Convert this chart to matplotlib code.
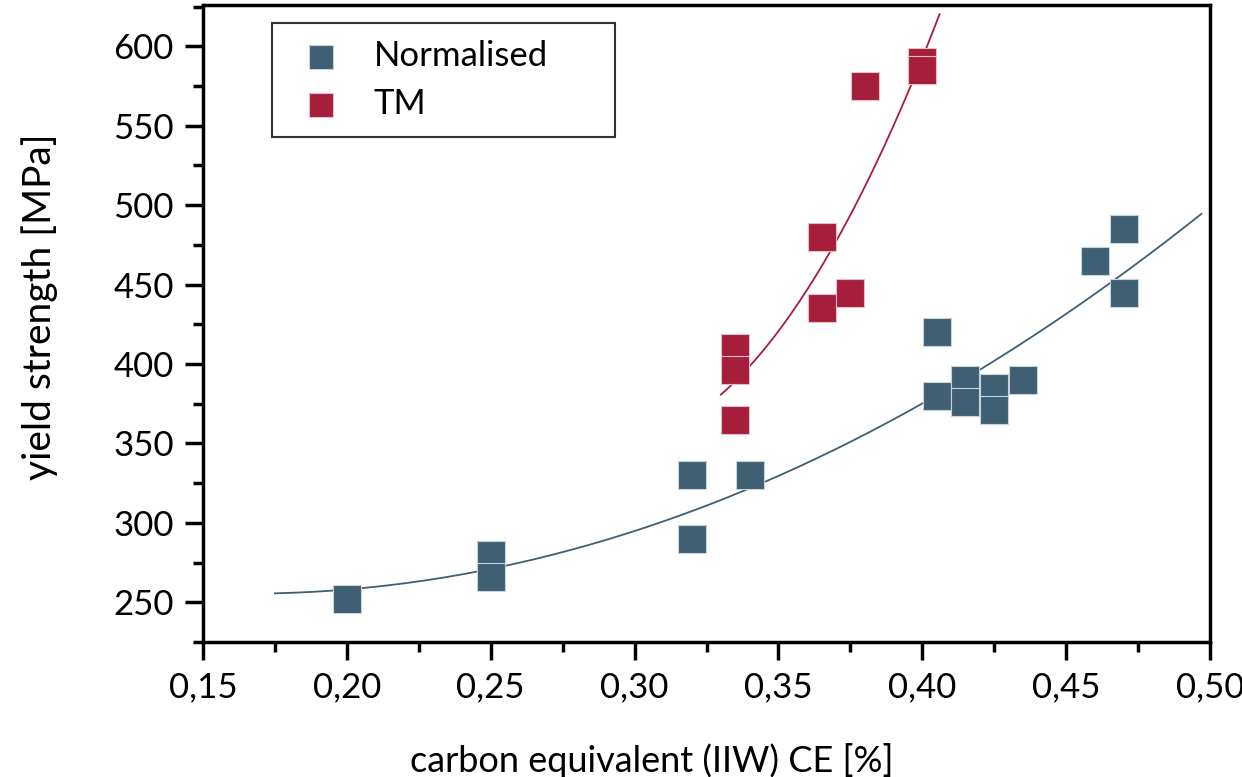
import matplotlib
matplotlib.use("Agg")
import matplotlib.pyplot as plt
from matplotlib.ticker import MultipleLocator, FuncFormatter
import numpy as np

# carbon equivalent / yield strength
norm_ce = [0.200, 0.250, 0.250, 0.320, 0.320, 0.340, 0.405, 0.405, 0.415, 0.415,
           0.425, 0.425, 0.435, 0.460, 0.470, 0.470]
norm_ys = [252, 280, 266, 330, 290, 330, 420, 380, 390, 376,
           385, 371, 390, 465, 485, 445]
tm_ce = [0.335, 0.335, 0.335, 0.365, 0.365, 0.375, 0.380, 0.400, 0.400]
tm_ys = [410, 396, 365, 480, 435, 445, 575, 590, 585]

# trend line ranges
norm_fit_range = (0.175, 0.497)
tm_fit_range = (0.330, 0.406)

blue = "#3F5F73"
red = "#A61E3C"

plt.rcParams['font.family'] = ['Lato', 'DejaVu Sans']

fig = plt.figure(figsize=(12.42, 7.77), dpi=100)
ax = fig.add_axes([203/1242, 1 - 642/777, (1210 - 203)/1242, (642 - 5)/777])

# quadratic trend lines fitted to the points
xs = np.linspace(*norm_fit_range, 200)
c = np.polyfit(norm_ce, norm_ys, 2)
ax.plot(xs, np.polyval(c, xs), color=blue, lw=1.3, zorder=2)
xs = np.linspace(*tm_fit_range, 200)
c = np.polyfit(tm_ce, tm_ys, 2)
ax.plot(xs, np.polyval(c, xs), color=red, lw=1.3, zorder=2)

ax.scatter(norm_ce, norm_ys, marker='s', s=400, color=blue, edgecolors='#c8d2da',
           linewidths=0.8, label='Normalised', zorder=3)
ax.scatter(tm_ce, tm_ys, marker='s', s=400, color=red, edgecolors='#e6c0c8',
           linewidths=0.8, label='TM', zorder=3)

ax.set_xlim(0.15, 0.50)
ax.set_ylim(225, 626)
ax.xaxis.set_major_locator(MultipleLocator(0.05))
ax.xaxis.set_minor_locator(MultipleLocator(0.025))
ax.yaxis.set_major_locator(MultipleLocator(50))
ax.yaxis.set_minor_locator(MultipleLocator(25))
ax.xaxis.set_major_formatter(FuncFormatter(lambda v, p: f"{v:.2f}".replace('.', ',')))
ax.set_yticks([250, 300, 350, 400, 450, 500, 550, 600])

for s in ax.spines.values():
    s.set_linewidth(2.5)
ax.tick_params(which='major', direction='out', length=13, width=2.5, labelsize=25, pad=8)
ax.tick_params(which='minor', direction='out', length=7, width=2.5)

ax.set_xlabel('carbon equivalent (IIW) CE [%]', fontsize=26)
ax.xaxis.set_label_coords((652 - 203) / 1007, -(760 - 642) / 637)
ax.xaxis.label.set_va('center')
ax.set_ylabel('yield strength [MPa]', fontsize=28)
ax.yaxis.set_label_coords((40 - 203) / 1007, (642 - 307) / 637)
ax.yaxis.label.set_va('center')

leg = ax.legend(loc='upper left', bbox_to_anchor=(0.0685, 0.9717 - 0.1727, 0.3406, 0.1727),
                mode='expand', fontsize=25, frameon=True, fancybox=False,
                edgecolor='black', borderpad=0.5, handletextpad=0.58, labelspacing=0.45,
                markerscale=0.85, borderaxespad=0, handlelength=1.85)
leg.get_frame().set_linewidth(1.5)

fig.savefig('out.png', dpi=100)
